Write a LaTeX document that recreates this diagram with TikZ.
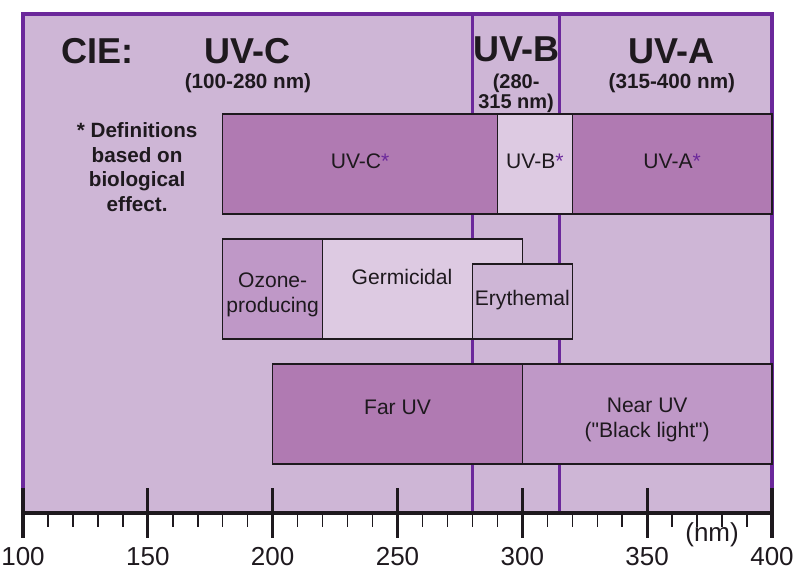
\documentclass[tikz,border=0pt]{standalone}
\usepackage{fontspec}
\setmainfont{Liberation Sans}
\newfontfamily\qfont{Liberation Sans}[Ligatures=TeXOff]
\definecolor{bg}{RGB}{206,182,214}
\definecolor{dark}{RGB}{176,122,178}
\definecolor{mid}{RGB}{191,152,199}
\definecolor{light}{RGB}{221,202,226}
\definecolor{framec}{RGB}{107,40,155}
\definecolor{ink}{RGB}{30,25,30}
\begin{document}
\begin{tikzpicture}[x=1.8725pt, y=-0.75pt,
  box/.style={draw=ink, line width=1.1pt},
  lbl/.style={font=\fontsize{15.8}{18.5}\selectfont, text=ink, align=center, inner sep=0pt},
  head/.style={font=\fontsize{27}{30}\selectfont\bfseries, text=ink, inner sep=0pt},
  sub/.style={font=\fontsize{15.5}{12.8}\selectfont\bfseries, text=ink, align=center, inner sep=0pt},
  note/.style={font=\fontsize{15.5}{18.5}\selectfont\bfseries, text=ink, align=center, inner sep=0pt},
  axlbl/.style={font=\fontsize{19.5}{21}\selectfont, text=ink, inner sep=0pt},
  major/.style={draw=ink, line width=2.3pt},
  minor/.style={draw=ink, line width=1.1pt},
  band/.style={draw=framec, line width=2.1pt}]
\useasboundingbox (90.788,0) rectangle (411.213,582);
% background panel
\fill[bg] (100,14) rectangle (400,513);
\draw[band, line width=2.4pt, line join=miter] (100,489) -- (100,14) -- (400,14) -- (400,489);
\draw[band] (280,14) -- (280,513);
\draw[band] (315,14) -- (315,513);
% headers
\node[head] (cie) at (130.0,51) {CIE:};
\node[head] (uvc) at (190.1,51) {UV-C};
\node[sub] (uvcr) at (190.1,83) {(100-280 nm)};
\node[head] (uvb) at (297.5,49) {UV-B};
\node[sub, font=\fontsize{15}{11.5}\selectfont\bfseries] (uvbr) at (297.5,93) {(280-\\315 nm)};
\node[head] (uva) at (359.9,51) {UV-A};
\node[sub] (uvar) at (359.9,83) {(315-400 nm)};
\node[note] (defn) at (145.7,167) {* Definitions\\based on\\biological\\effect.};
% row 1
\draw[box, fill=dark] (180,114) rectangle (290,214);
\draw[box, fill=light] (290,114) rectangle (320,214);
\draw[box, fill=dark] (320,114) rectangle (400,214);
\node[lbl] (bc) at (235,161) {UV-C\textcolor{framec}{*}};
\node[lbl] (bb) at (305,161) {UV-B\textcolor{framec}{*}};
\node[lbl] (ba) at (360,161) {UV-A\textcolor{framec}{*}};
% row 2
\draw[box, fill=mid] (180,239) rectangle (220,339);
\draw[box, fill=light] (220,239) rectangle (300,339);
\draw[box, fill=bg] (280,264) rectangle (320,339);
\node[lbl] (oz) at (200,295) {Ozone-\\producing};
\node[lbl] (germ) at (251.8,277) {Germicidal};
\node[lbl] (ery) at (300,300) {Erythemal};
% row 3
\draw[box, fill=dark] (200,364) rectangle (300,464);
\draw[box, fill=mid] (300,364) rectangle (400,464);
\node[lbl] (far) at (250,407) {Far UV};
\node[lbl] (near) at (350,420) {Near UV\\({\qfont\symbol{34}}Black light{\qfont\symbol{34}})};
% axis
\draw[major] (100,513) -- (400,513);
\foreach \v in {110,120,...,390} \draw[minor] (\v,513) -- (\v,527);
\foreach \v in {100,150,...,400} {
  \draw[major] (\v,488) -- (\v,538);
  \node[axlbl] (t\v) at (\v,557) {\v};
}
\node[axlbl] (unit) at (376,535) {(nm)};
\end{tikzpicture}
\end{document}
